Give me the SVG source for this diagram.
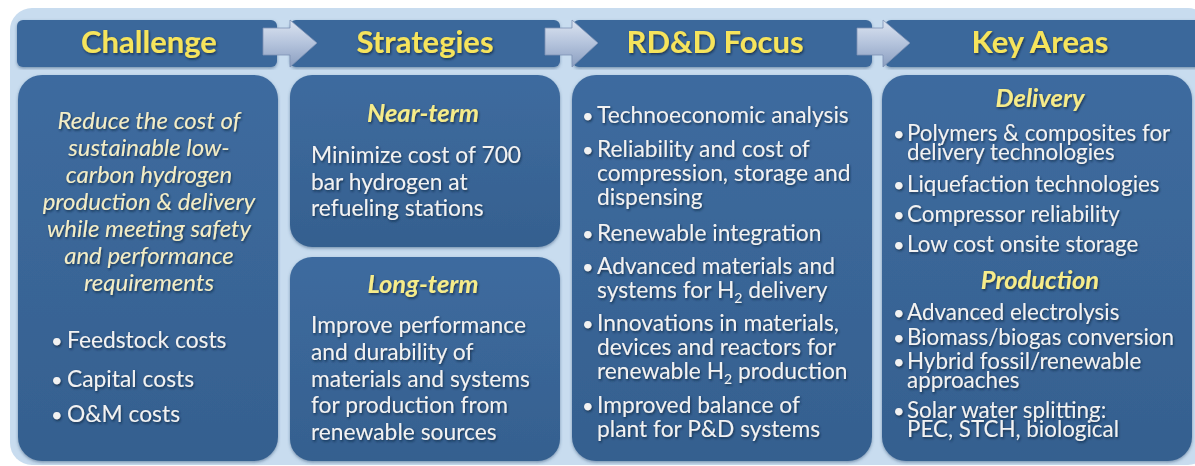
<svg xmlns="http://www.w3.org/2000/svg" width="1195" height="466" viewBox="0 0 1195 466">
<defs>
<style>
.hdr{fill:#3A679B}
.ht{font-family:Lato,"Open Sans",sans-serif;font-weight:bold;font-size:31px;fill:#F6E45C;text-anchor:middle}
.sub{font-family:Lato,"Open Sans",sans-serif;font-weight:bold;font-style:italic;font-size:25.5px;fill:#F6EC8A;text-anchor:middle}
.it{font-family:Lato,"Open Sans",sans-serif;font-style:italic;font-size:24px;fill:#F3EDC6;text-anchor:middle}
.t{font-family:Lato,"Open Sans",sans-serif;font-size:22.8px;fill:#F2F2F2}
.tk{font-family:Lato,"Open Sans",sans-serif;font-size:22.4px;fill:#F2F2F2}
.b{font-size:20px}
.arr{fill:url(#ag);stroke:#7F93B5;stroke-width:0.8}
</style>
<linearGradient id="ag" x1="0" y1="0" x2="0" y2="1">
<stop offset="0" stop-color="#DCE4F1"/>
<stop offset="0.5" stop-color="#B4C3DC"/>
<stop offset="1" stop-color="#8A9EC0"/>
</linearGradient>
<linearGradient id="bg" x1="0" y1="0" x2="0" y2="1">
<stop offset="0" stop-color="#3E6B9F"/>
<stop offset="1" stop-color="#35608F"/>
</linearGradient>
<filter id="ts" x="-5%" y="-20%" width="110%" height="140%">
<feDropShadow dx="1" dy="1.5" stdDeviation="0.8" flood-color="#10203A" flood-opacity="0.75"/>
</filter>
<filter id="bs" x="-5%" y="-5%" width="110%" height="110%">
<feDropShadow dx="0" dy="1.5" stdDeviation="1.5" flood-color="#2A4A70" flood-opacity="0.5"/>
</filter>
</defs>
<rect x="0" y="0" width="1195" height="466" fill="#FFFFFF"/>
<rect id="frame" x="10" y="8" width="1200" height="457" rx="22" fill="#C8DCEF"/>

<g id="header-challenge">
<rect class="hdr" x="17" y="20" width="260" height="47" rx="6" filter="url(#bs)"/>
<text class="ht" x="149" y="53" filter="url(#ts)">Challenge</text>
</g>
<g id="header-strategies">
<rect class="hdr" x="290" y="20" width="270" height="47" rx="6" filter="url(#bs)"/>
<text class="ht" x="425" y="53" filter="url(#ts)">Strategies</text>
</g>
<g id="header-rdd">
<rect class="hdr" x="573" y="20" width="299" height="47" rx="6" filter="url(#bs)"/>
<text class="ht" x="715" y="53" filter="url(#ts)">RD&amp;D Focus</text>
</g>
<g id="header-key">
<rect class="hdr" x="885" y="20" width="320" height="47" rx="6" filter="url(#bs)"/>
<text class="ht" x="1040" y="53" filter="url(#ts)">Key Areas</text>
</g>

<g id="connectors">
<path class="arr" d="M263,28 H290 V20 L317,43 L290,67 V55 H263 Z"/>
<path class="arr" d="M545,28 H572 V20 L598,43 L572,67 V55 H545 Z"/>
<path class="arr" d="M857,28 H883 V20 L910,43 L883,67 V55 H857 Z"/>
</g>

<g id="challenge">
<rect x="18" y="75" width="260" height="386" rx="24" fill="url(#bg)" filter="url(#bs)"/>
<g filter="url(#ts)">
<text class="it" x="149" y="129">Reduce the cost of</text>
<text class="it" x="149" y="156">sustainable low-</text>
<text class="it" x="149" y="183">carbon hydrogen</text>
<text class="it" x="149" y="210">production &amp; delivery</text>
<text class="it" x="149" y="237">while meeting safety</text>
<text class="it" x="149" y="264">and  performance</text>
<text class="it" x="149" y="291">requirements</text>
<text class="t" y="348"><tspan class="b" x="51">•</tspan><tspan x="67">Feedstock  costs</tspan></text>
<text class="t" y="387"><tspan class="b" x="51">•</tspan><tspan x="67">Capital costs</tspan></text>
<text class="t" y="422"><tspan class="b" x="51">•</tspan><tspan x="67">O&amp;M costs</tspan></text>
</g>
</g>

<g id="near-term">
<rect x="290" y="75" width="270" height="172" rx="22" fill="url(#bg)" filter="url(#bs)"/>
<g filter="url(#ts)">
<text class="sub" x="423" y="122">Near-term</text>
<text class="t" x="311" y="163">Minimize cost of 700</text>
<text class="t" x="311" y="190">bar hydrogen at</text>
<text class="t" x="311" y="216">refueling stations</text>
</g>
</g>

<g id="long-term">
<rect x="290" y="257" width="270" height="204" rx="22" fill="url(#bg)" filter="url(#bs)"/>
<g filter="url(#ts)">
<text class="sub" x="423" y="293">Long-term</text>
<text class="t" x="311" y="333">Improve performance</text>
<text class="t" x="311" y="360">and durability of</text>
<text class="t" x="311" y="387">materials and systems</text>
<text class="t" x="311" y="413">for production from</text>
<text class="t" x="311" y="440">renewable sources</text>
</g>
</g>

<g id="rdd-focus">
<rect x="572" y="75" width="300" height="386" rx="24" fill="url(#bg)" filter="url(#bs)"/>
<g filter="url(#ts)">
<text class="t" y="123"><tspan class="b" x="582">•</tspan><tspan x="597">Technoeconomic  analysis</tspan></text>
<text class="t" y="157"><tspan class="b" x="582">•</tspan><tspan x="597">Reliability and cost of</tspan><tspan x="597" y="181">compression, storage and</tspan><tspan x="597" y="205">dispensing</tspan></text>
<text class="t" y="241"><tspan class="b" x="582">•</tspan><tspan x="597">Renewable  integration</tspan></text>
<text class="t" y="274"><tspan class="b" x="582">•</tspan><tspan x="597">Advanced materials and</tspan><tspan x="597" y="298">systems for H</tspan><tspan font-size="14" dy="5">2</tspan><tspan dy="-5"> delivery</tspan></text>
<text class="t" y="331"><tspan class="b" x="582">•</tspan><tspan x="597">Innovations in materials,</tspan><tspan x="597" y="355">devices and reactors for</tspan><tspan x="597" y="379">renewable H</tspan><tspan font-size="14" dy="5">2</tspan><tspan dy="-5"> production</tspan></text>
<text class="t" y="413"><tspan class="b" x="582">•</tspan><tspan x="597">Improved balance of</tspan><tspan x="597" y="437">plant for P&amp;D systems</tspan></text>
</g>
</g>

<g id="key-areas">
<rect x="882" y="75" width="310" height="386" rx="24" fill="url(#bg)" filter="url(#bs)"/>
<g filter="url(#ts)">
<text class="sub" x="1040" y="107">Delivery</text>
<text class="tk" y="141"><tspan class="b" x="893">•</tspan><tspan x="907">Polymers &amp; composites for</tspan><tspan x="907" y="160">delivery technologies</tspan></text>
<text class="tk" y="192"><tspan class="b" x="893">•</tspan><tspan x="907">Liquefaction  technologies</tspan></text>
<text class="tk" y="222"><tspan class="b" x="893">•</tspan><tspan x="907">Compressor reliability</tspan></text>
<text class="tk" y="252"><tspan class="b" x="893">•</tspan><tspan x="907">Low cost onsite storage</tspan></text>
<text class="sub" x="1040" y="289">Production</text>
<text class="tk" y="320"><tspan class="b" x="893">•</tspan><tspan x="907">Advanced electrolysis</tspan></text>
<text class="tk" y="345"><tspan class="b" x="893">•</tspan><tspan x="907">Biomass/biogas conversion</tspan></text>
<text class="tk" y="369"><tspan class="b" x="893">•</tspan><tspan x="907">Hybrid fossil/renewable</tspan><tspan x="907" y="388">approaches</tspan></text>
<text class="tk" y="418"><tspan class="b" x="893">•</tspan><tspan x="907">Solar  water splitting:</tspan><tspan x="907" y="437">PEC, STCH, biological</tspan></text>
</g>
</g>
</svg>
